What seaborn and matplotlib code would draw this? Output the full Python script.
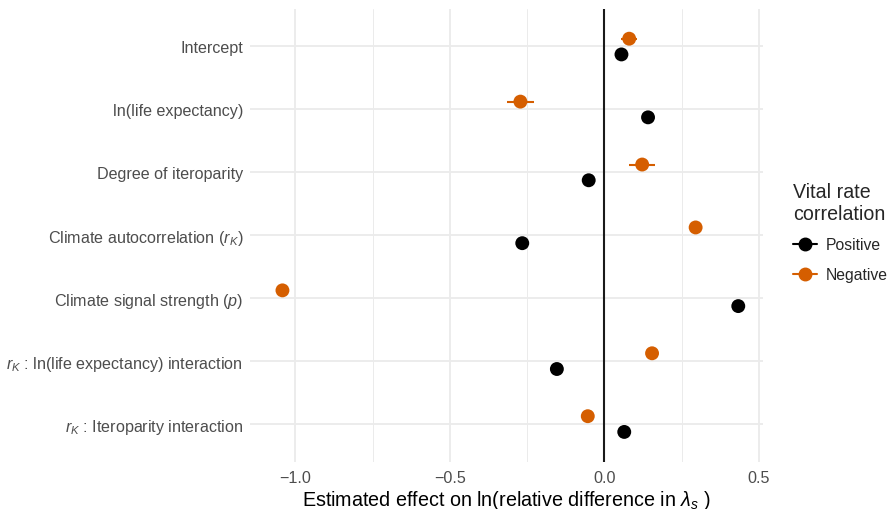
import numpy as np
import pandas as pd
import seaborn as sns
import matplotlib
matplotlib.use("Agg")
import matplotlib.pyplot as plt
from matplotlib.lines import Line2D

terms = ["Intercept", "ln(life expectancy)", "Degree of iteroparity",
         "Climate autocorrelation ($r_K$)", "Climate signal strength ($p$)",
         "$r_K$ : ln(life expectancy) interaction", "$r_K$ : Iteroparity interaction"]
pos_est = [0.055, 0.141, -0.051, -0.266, 0.433, -0.154, 0.064]
pos_err = [0.012, 0.012, 0.012, 0.010, 0.012, 0.012, 0.012]
neg_est = [0.080, -0.272, 0.122, 0.295, -1.042, 0.154, -0.054]
neg_err = [0.025, 0.043, 0.043, 0.012, 0.012, 0.012, 0.012]
groups = ["Positive", "Negative"]
colors = {"Positive": "#000000", "Negative": "#D55E00"}

sns.set_theme(style="whitegrid")
plt.rcParams["font.family"] = ["Liberation Sans", "DejaVu Sans"]
plt.rcParams["mathtext.fontset"] = "custom"
plt.rcParams["mathtext.rm"] = "Liberation Sans"
plt.rcParams["mathtext.it"] = "Liberation Sans:italic"

n = len(terms)
df = pd.DataFrame({
    "term": terms * 2,
    "est": pos_est + neg_est,
    "err": pos_err + neg_err,
    "group": ["Positive"] * n + ["Negative"] * n,
})
base = {t: i for i, t in enumerate(terms)}
offset = {"Positive": 0.13, "Negative": -0.12}
df["y"] = df["term"].map(base) + df["group"].map(offset)

fig = plt.figure(figsize=(8.94, 5.10), dpi=100)
ax = fig.add_axes([250 / 894, 1 - 462.5 / 510, (763 - 250) / 894, (462.5 - 9.5) / 510])

ax.axvline(0, color="#1a1a1a", lw=1.5, zorder=2)
for g in groups:
    sub = df[df.group == g]
    ax.errorbar(sub["est"], sub["y"], xerr=sub["err"], fmt="none",
                ecolor=colors[g], elinewidth=1.5, capsize=0, zorder=3)
sns.scatterplot(data=df, x="est", y="y", hue="group", palette=colors,
                hue_order=groups, s=100, edgecolor="none", ax=ax, zorder=4,
                legend=False)

ax.set_xlim(-1.147, 0.513)
ax.set_ylim(n - 0.4, -0.6)
ax.set_yticks(range(n))
ax.set_yticklabels(terms)
ax.set_xticks([-1.0, -0.5, 0.0, 0.5])
ax.set_xticklabels(["\u22121.0", "\u22120.5", "0.0", "0.5"])
ax.set_xticks([-0.75, -0.25, 0.25], minor=True)
ax.grid(which="major", color="#EBEBEB", lw=1.3)
ax.grid(which="minor", axis="x", color="#EBEBEB", lw=0.7)
ax.tick_params(axis="both", which="both", length=0, labelsize=11.6,
               labelcolor="#4D4D4D")
ax.tick_params(axis="y", pad=5)
ax.tick_params(axis="x", pad=6)
for s in ax.spines.values():
    s.set_visible(False)
ax.set_ylabel("")
ax.set_xlabel("Estimated effect on ln(relative difference in $\\lambda_s$ )",
              fontsize=14.2, color="#000000", labelpad=2)

handles = [Line2D([0], [0], color=colors[g], marker="o", markersize=9, lw=1.5)
           for g in groups]
leg = fig.legend(handles, groups, title="Vital rate\ncorrelation",
                 loc="center left", bbox_to_anchor=(779 / 894, 1 - 233 / 510),
                 frameon=False, fontsize=11.3, title_fontsize=14.1,
                 handlelength=1.55, handletextpad=0.55, labelspacing=0.95)
leg._legend_box.align = "left"

fig.savefig("out.png", dpi=100)
